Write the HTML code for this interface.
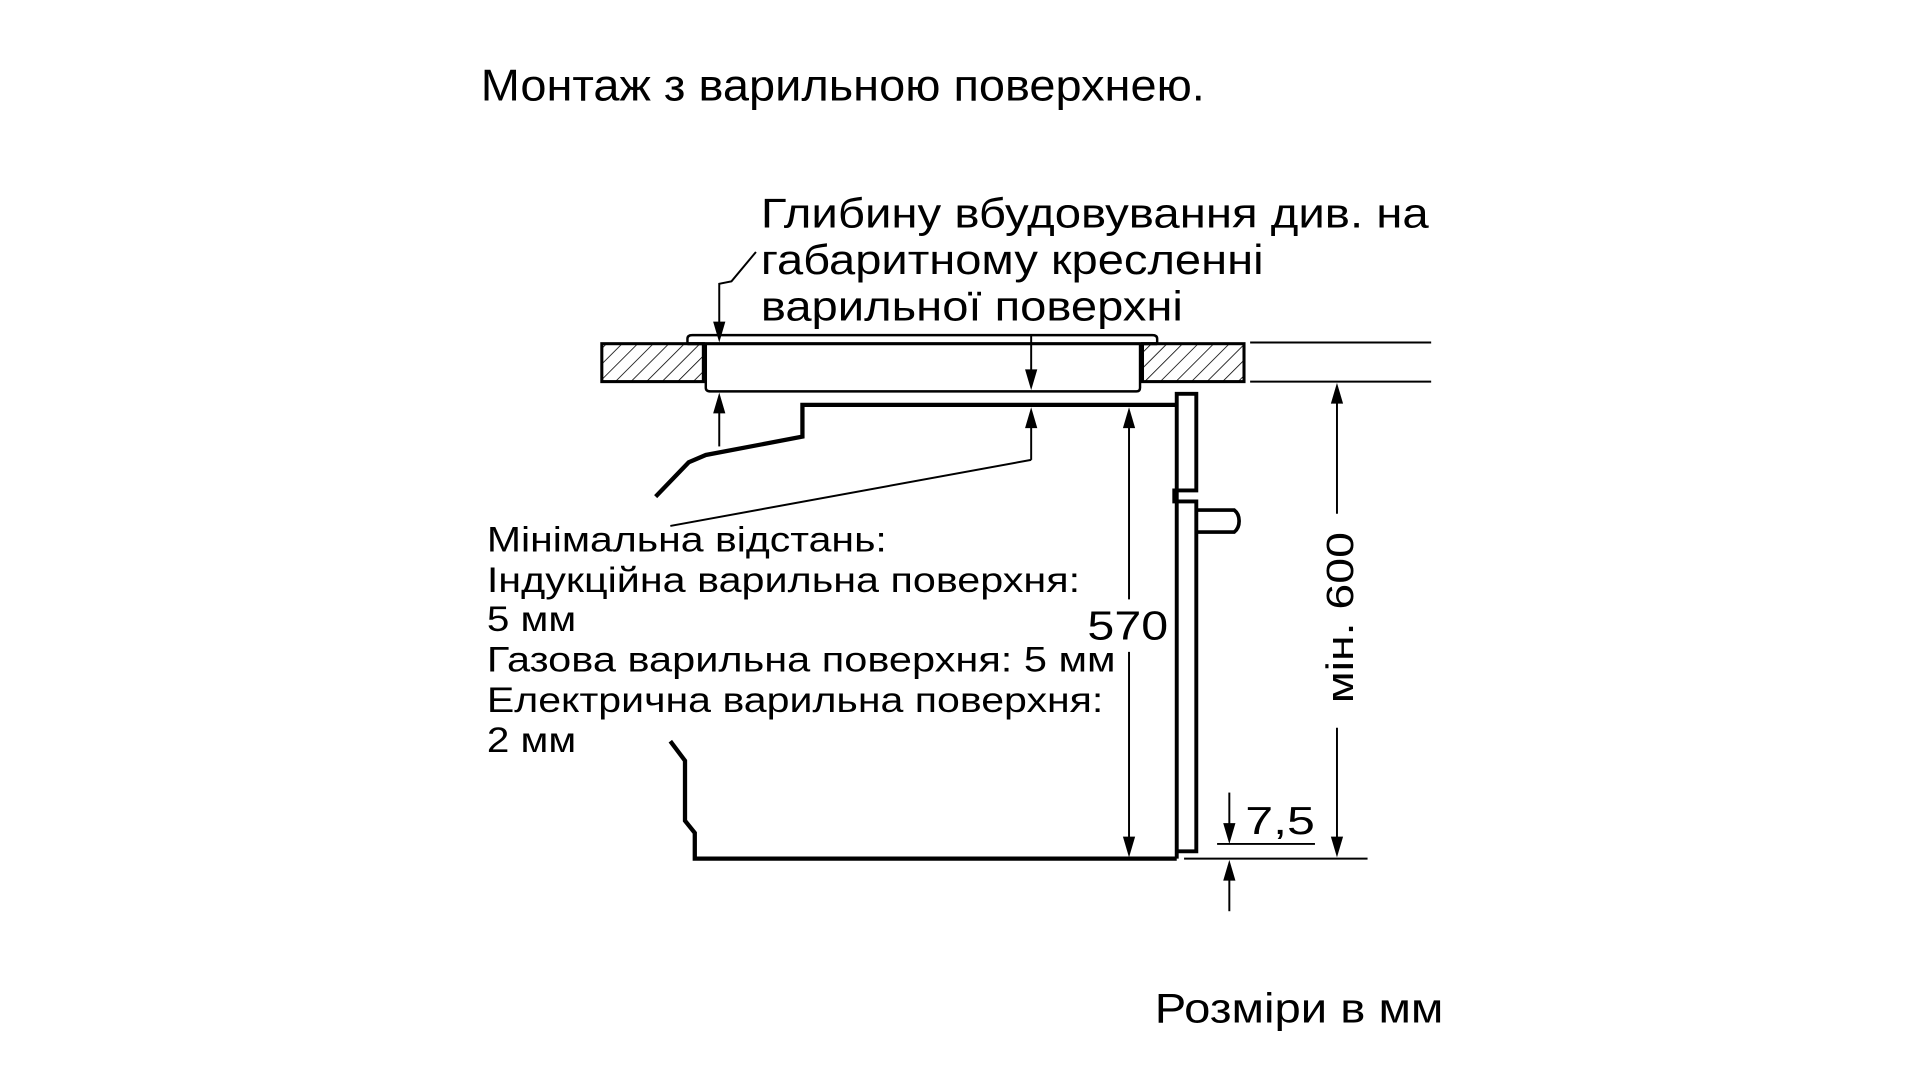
<!DOCTYPE html>
<html><head><meta charset="utf-8"><style>
html,body{margin:0;padding:0;background:#fff;width:1918px;height:1080px;overflow:hidden}
svg{display:block}
text{font-family:"Liberation Sans",sans-serif;fill:#000}
</style></head><body>
<svg width="1918" height="1080" viewBox="0 0 1568 883" preserveAspectRatio="none" xmlns="http://www.w3.org/2000/svg">
<defs>
<pattern id="h" width="9" height="9" patternUnits="userSpaceOnUse" patternTransform="rotate(45)">
<line x1="0" y1="0" x2="0" y2="9" stroke="#000" stroke-width="1.3"/>
</pattern>
</defs>
<text x="393" y="82" font-size="36" textLength="592" lengthAdjust="spacingAndGlyphs">Монтаж з варильною поверхнею.</text>
<text x="622" y="186" font-size="34" textLength="546" lengthAdjust="spacingAndGlyphs">Глибину вбудовування див. на</text>
<text x="622" y="224" font-size="34" textLength="411" lengthAdjust="spacingAndGlyphs">габаритному кресленні</text>
<text x="622" y="262" font-size="34" textLength="345" lengthAdjust="spacingAndGlyphs">варильної поверхні</text>

<g stroke="#000" fill="none">
<rect x="492" y="281" width="83" height="31" fill="url(#h)" stroke-width="2.5"/>
<rect x="934" y="281" width="83" height="31" fill="url(#h)" stroke-width="2.5"/>
<line x1="1022" y1="280" x2="1170" y2="280" stroke-width="1.6"/>
<line x1="1022" y1="312" x2="1170" y2="312" stroke-width="1.6"/>
<path d="M562,281 L562,277 Q562,274 566,274 L942,274 Q946,274 946,277 L946,281 Z" stroke-width="2"/>
<path d="M577,281 L577,317 Q577,320 581,320 L929,320 Q932,320 932,317 L932,281" stroke-width="2"/>
<line x1="562" y1="281" x2="946" y2="281" stroke-width="2.5"/>
<polyline points="618,206 598,230 588,232 588,265" stroke-width="1.6"/>
<line x1="843" y1="274" x2="843" y2="305" stroke-width="1.6"/>
<line x1="588" y1="365" x2="588" y2="335" stroke-width="1.6"/>
<polyline points="962,331 656,331 656,357 577,372 563,378 536,406" stroke-width="3.5"/>
<line x1="843" y1="376" x2="843" y2="345" stroke-width="1.6"/>
<polyline points="843,376 548,430" stroke-width="1.6"/>
<polyline points="548,606 560,622 560,671 568,681 568,702 962,702" stroke-width="3.5"/>
<path d="M962,702 L962,322 L978,322 L978,401 L960,401 L960,410 L978,410 L978,696 L962,696" stroke-width="3.2"/>
<path d="M978,417 L1009,417 Q1013,420 1013,426 Q1013,432 1009,435 L978,435" stroke-width="3"/>
<line x1="923" y1="490" x2="923" y2="345" stroke-width="1.6"/>
<line x1="923" y1="533" x2="923" y2="688" stroke-width="1.6"/>
<line x1="1093" y1="420" x2="1093" y2="325" stroke-width="1.6"/>
<line x1="1093" y1="595" x2="1093" y2="688" stroke-width="1.6"/>
<line x1="968" y1="702" x2="1118" y2="702" stroke-width="1.6"/>
<line x1="995" y1="690" x2="1075" y2="690" stroke-width="1.6"/>
<line x1="1005" y1="648" x2="1005" y2="678" stroke-width="1.6"/>
<line x1="1005" y1="745" x2="1005" y2="715" stroke-width="1.6"/>
</g>
<g fill="#000">
<!-- down arrows: tip at (x,y) -->
<path d="M588,280 l-5,-17 h10 z"/>
<path d="M843,319 l-5,-17 h10 z"/>
<path d="M923,701 l-5,-17 h10 z"/>
<path d="M1093,701 l-5,-17 h10 z"/>
<path d="M1005,690 l-5,-17 h10 z"/>
<!-- up arrows -->
<path d="M588,321 l-5,17 h10 z"/>
<path d="M843,333 l-5,17 h10 z"/>
<path d="M923,333 l-5,17 h10 z"/>
<path d="M1093,313 l-5,17 h10 z"/>
<path d="M1005,703 l-5,17 h10 z"/>
</g>

<text x="889" y="523" font-size="33" textLength="66" lengthAdjust="spacingAndGlyphs">570</text>
<text transform="translate(1106,575) rotate(-90)" font-size="31" textLength="140" lengthAdjust="spacingAndGlyphs">мін. 600</text>
<text x="1018" y="682" font-size="32" textLength="57" lengthAdjust="spacingAndGlyphs">7,5</text>

<g font-size="29">
<text x="398" y="451" textLength="327" lengthAdjust="spacingAndGlyphs">Мінімальна відстань:</text>
<text x="398" y="484" textLength="485" lengthAdjust="spacingAndGlyphs">Індукційна варильна поверхня:</text>
<text x="398" y="516" textLength="73" lengthAdjust="spacingAndGlyphs">5 мм</text>
<text x="398" y="549" textLength="514" lengthAdjust="spacingAndGlyphs">Газова варильна поверхня: 5 мм</text>
<text x="398" y="582" textLength="504" lengthAdjust="spacingAndGlyphs">Електрична варильна поверхня:</text>
<text x="398" y="615" textLength="73" lengthAdjust="spacingAndGlyphs">2 мм</text>
</g>
<text x="944" y="836" font-size="34" textLength="236" lengthAdjust="spacingAndGlyphs">Розміри в мм</text>
</svg>
</body></html>
